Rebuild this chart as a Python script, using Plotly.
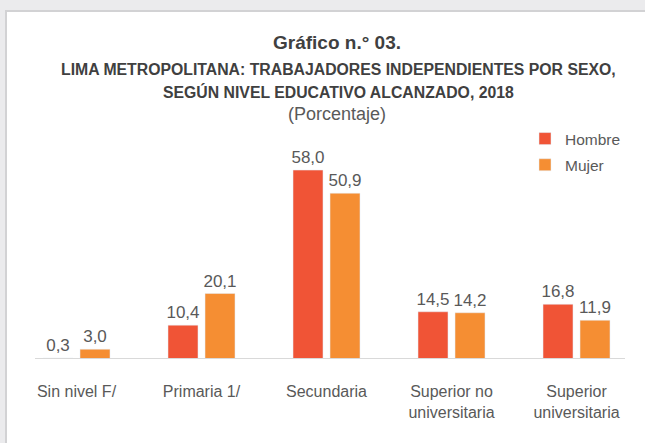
import plotly.graph_objects as go

categories = ["Sin nivel F/", "Primaria 1/", "Secundaria", "Superior no<br>universitaria", "Superior<br>universitaria"]
hombre = [0.3, 10.4, 58.0, 14.5, 16.8]
mujer = [3.0, 20.1, 50.9, 14.2, 11.9]

W, H = 645, 443
L, R, T, B = 14, 6, 131, 84
PW, PH = W - L - R, H - T - B

def px_x(p):
    return (p - L) / PW

def px_y(p):
    return (H - B - p) / PH

txt = "#595959"
fig = go.Figure()
fig.add_trace(go.Bar(name="Hombre", x=categories, y=hombre, marker_color="#f05436",
                     texttemplate="%{y:.1f}", textposition="outside", constraintext="none",
                     textfont=dict(size=17, color=txt), cliponaxis=False, legendgroup="h"))
fig.add_trace(go.Bar(name="Mujer", x=categories, y=mujer, marker_color="#f58e33",
                     texttemplate="%{y:.1f}", textposition="outside", constraintext="none",
                     textfont=dict(size=17, color=txt), cliponaxis=False, legendgroup="m"))

shapes = [
    dict(type="rect", xref="paper", yref="paper", x0=px_x(-5), x1=px_x(W + 5), y0=px_y(H + 5), y1=px_y(-5),
         fillcolor="#ebebed", line=dict(width=0), layer="below"),
    dict(type="rect", xref="paper", yref="paper", x0=px_x(6), x1=px_x(W + 10), y0=px_y(H + 10), y1=px_y(11),
         fillcolor="white", line=dict(color="#d2d2d4", width=2), layer="below"),
    dict(type="line", xref="paper", yref="y", x0=px_x(35), x1=px_x(625), y0=0, y1=0,
         line=dict(color="#d9d9d9", width=2)),
]

tc = "#404040"
ann = [
    dict(text="<b>Gráfico n.° 03.</b>", x=px_x(337), y=px_y(42), font=dict(size=19, color=tc)),
    dict(text="<b>LIMA METROPOLITANA: TRABAJADORES INDEPENDIENTES POR SEXO,</b>", x=px_x(338), y=px_y(70), font=dict(size=15.8, color=tc)),
    dict(text="<b>SEGÚN NIVEL EDUCATIVO ALCANZADO, 2018</b>", x=px_x(338), y=px_y(92), font=dict(size=15.8, color=tc)),
    dict(text="(Porcentaje)", x=px_x(337), y=px_y(114), font=dict(size=18, color=txt)),
]
for a in ann:
    a.update(xref="paper", yref="paper", showarrow=False, xanchor="center", yanchor="middle")

fig.update_layout(
    width=W, height=H, margin=dict(l=L, r=R, t=T, b=B),
    paper_bgcolor="white", plot_bgcolor="rgba(0,0,0,0)",
    font=dict(family="Liberation Sans, Arial, sans-serif", color=txt),
    separators=",.",
    barmode="group", bargap=0.408, bargroupgap=0.19,
    showlegend=True,
    legend=dict(x=px_x(525), y=px_y(122), xanchor="left", yanchor="top",
                font=dict(size=15.5, color=txt), bgcolor="rgba(0,0,0,0)",
                tracegroupgap=3, traceorder="grouped", itemwidth=30),
    shapes=shapes, annotations=ann,
    xaxis=dict(showline=False, showgrid=False, zeroline=False, ticks="outside", ticklen=18,
               tickcolor="rgba(0,0,0,0)", tickfont=dict(size=16, color=txt), range=[-0.5, 4.5]),
    yaxis=dict(visible=False, range=[0, 70]),
)

fig.write_html("out.html", config={"displayModeBar": False},
               post_script="document.body.style.margin='0';document.body.style.overflow='hidden';")
